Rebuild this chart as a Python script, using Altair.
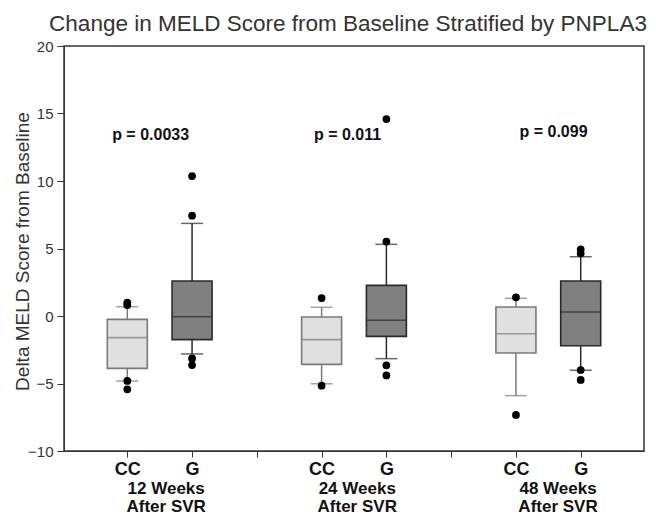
import altair as alt
import pandas as pd

# ---- data ----
weeks = ["12 Weeks\nAfter SVR", "24 Weeks\nAfter SVR", "48 Weeks\nAfter SVR"]
genotypes = ["CC", "G"]
# box order: CC-12, G-12, CC-24, G-24, CC-48, G-48
q1 = [-3.88, -1.75, -3.58, -1.51, -2.74, -2.20]
median = [-1.60, -0.05, -1.75, -0.32, -1.31, 0.30]
q3 = [-0.25, 2.59, -0.07, 2.27, 0.67, 2.59]
whisker_lo = [-4.81, -2.81, -5.01, -3.16, -5.90, -4.02]
whisker_hi = [0.69, 6.86, 0.64, 5.31, 1.31, 4.39]
outlier_box = [0, 0, 0, 0, 1, 1, 1, 1, 2, 2, 3, 3, 3, 3, 4, 4, 5, 5, 5, 5]
outlier_val = [0.99, 0.81, -4.81, -5.43,
               10.37, 7.43, -3.14, -3.63,
               1.33, -5.16,
               14.59, 5.51, -3.65, -4.40,
               1.38, -7.33,
               4.94, 4.64, -4.00, -4.74]
p_texts = ["p = 0.0033", "p = 0.011", "p = 0.099"]
p_x = [1.36, 4.4, 7.58]
p_y = [13.4, 13.4, 13.6]
week_label_x = [1.6, 4.55, 7.65]

FONT = "Liberation Sans"
fill_colors = ["#e0e0e0", "#808080"]
stroke_colors = ["#7a7a7a", "#2a2a2a"]

rows = []
for i in range(6):
    g, k = divmod(i, 2)
    rows.append(dict(pos=3 * g + 1 + k, geno=genotypes[k], q1=q1[i], med=median[i],
                     q3=q3[i], lo=whisker_lo[i], hi=whisker_hi[i]))
box_df = pd.DataFrame(rows)

out_df = pd.DataFrame({
    "pos": [3 * (b // 2) + 1 + (b % 2) for b in outlier_box],
    "val": outlier_val,
})
p_df = pd.DataFrame({"x": p_x, "y": p_y, "t": p_texts})
w_df = pd.DataFrame({"x": week_label_x, "t": weeks})

xscale = alt.Scale(domain=[0.1, 8.9], nice=False, zero=False)
yscale = alt.Scale(domain=[-10, 20], nice=False, zero=False)
color_scale = alt.Scale(domain=genotypes, range=stroke_colors)
fill_scale = alt.Scale(domain=genotypes, range=fill_colors)

x_axis = alt.Axis(values=[1, 2, 3, 4, 5, 6, 7, 8], title=None, grid=False,
                  labelExpr="datum.value % 3 == 1 ? 'CC' : (datum.value % 3 == 2 ? 'G' : '')",
                  labelFont=FONT, labelFontSize=18, labelFontWeight="bold", labelColor="#111",
                  tickSize=6, tickColor="#333", domainColor="#333", labelPadding=3,
                  labelAngle=0)
y_axis = alt.Axis(values=[-10, -5, 0, 5, 10, 15, 20], title="Delta MELD Score from Baseline",
                  grid=False, labelFont=FONT, labelFontSize=15, labelColor="#333",
                  tickSize=7, tickColor="#333", domainColor="#333", labelPadding=4,
                  titleFont=FONT, titleFontSize=19, titleFontWeight="normal",
                  titleColor="#333", titleX=-42, titleY=205, titleAngle=270,
                  titleBaseline="middle", titleAlign="center")


def X(field):
    return alt.X(field, scale=xscale, axis=x_axis)


def Y(field):
    return alt.Y(field, scale=yscale, axis=y_axis)


geno_color = alt.Color("geno:N", scale=color_scale, legend=None)
base = alt.Chart(box_df)

whisk_up = base.mark_rule(strokeWidth=1.5).encode(
    x=X("pos:Q"), y=Y("q3:Q"), y2="hi:Q", color=geno_color)
whisk_dn = base.mark_rule(strokeWidth=1.5).encode(
    x=X("pos:Q"), y=Y("lo:Q"), y2="q1:Q", color=geno_color)
cap_hi = base.mark_tick(orient="horizontal", size=22, thickness=1.5).encode(
    x=X("pos:Q"), y=Y("hi:Q"), color=geno_color)
cap_lo = base.mark_tick(orient="horizontal", size=22, thickness=1.5).encode(
    x=X("pos:Q"), y=Y("lo:Q"), color=geno_color)
boxes = base.mark_bar(size=40, strokeWidth=1.6).encode(
    x=X("pos:Q"), y=Y("q1:Q"), y2="q3:Q",
    fill=alt.Fill("geno:N", scale=fill_scale, legend=None),
    stroke=alt.Stroke("geno:N", scale=color_scale, legend=None),
)
medians = base.mark_tick(orient="horizontal", size=40, thickness=1.6).encode(
    x=X("pos:Q"), y=Y("med:Q"), color=geno_color)
outliers = alt.Chart(out_df).mark_circle(size=60, color="black", opacity=1).encode(
    x=X("pos:Q"), y=Y("val:Q"))
p_labels = alt.Chart(p_df).mark_text(font=FONT, fontSize=16, fontWeight="bold",
                                     color="#111", baseline="middle").encode(
    x=X("x:Q"), y=Y("y:Q"), text="t:N")
week_labels = alt.Chart(w_df).mark_text(font=FONT, fontSize=17, fontWeight="bold",
                                        color="#111", baseline="top", lineBreak="\n",
                                        lineHeight=18).encode(
    x=X("x:Q"), y=alt.value(435), text="t:N")

chart = alt.layer(whisk_up, whisk_dn, cap_hi, cap_lo, boxes, medians, outliers,
                  p_labels, week_labels).properties(
    width=580, height=405,
    autosize=alt.AutoSizeParams(type="none"),
    padding={"left": 56, "top": 38, "right": 4, "bottom": 65},
    title=alt.TitleParams("Change in MELD Score from Baseline Stratified by PNPLA3",
                          font=FONT, fontSize=22.5, fontWeight="normal", color="#333",
                          anchor="middle", offset=4, dx=-6),
).configure_view(stroke="#333", strokeWidth=1.5)

chart.save("out.html", embed_options={"renderer": "svg", "actions": False})
